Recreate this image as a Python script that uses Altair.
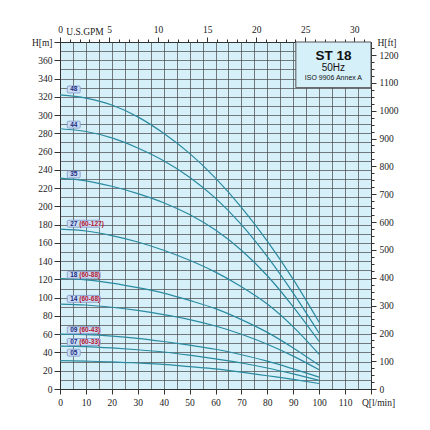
import altair as alt
import pandas as pd

# ---- data ----
flow = [0, 10, 20, 30, 40, 50, 60, 70, 80, 90, 100]   # Q [l/min]
stages = ["48", "44", "35", "27", "18", "14", "09", "07", "05"]
ranges = ["", "", "", "(60-127)", "(60-88)", "(60-68)", "(60-43)", "(60-33)", ""]
head_48 = [322, 318.5, 311, 298, 280, 258, 231, 199, 162, 120, 73]
head_44 = [285, 282, 275, 264, 250, 232, 209, 180, 145, 105, 61]
head_35 = [231, 228, 222, 214, 204, 191, 174, 152, 124, 90, 52]
head_27 = [175, 173, 168, 161, 152, 141, 128, 112, 93, 68, 38]
head_18 = [121, 119.5, 116, 111, 105, 97, 88, 76, 62, 45, 26]
head_14 = [93, 92, 89.5, 86, 81.5, 76, 69, 60, 49, 36, 21]
head_09 = [60, 59.5, 58, 55.5, 52, 48, 43.5, 37.5, 30.5, 22, 13]
head_07 = [47, 46.5, 45, 43, 40.5, 37, 33, 28.5, 23, 16.5, 9.5]
head_05 = [31, 30.5, 29.8, 28.5, 27, 24.5, 22, 18.5, 14.5, 10.5, 6]
label_h = [328, 289.5, 235, 181, 125, 98.7, 64.4, 51.5, 39.8]
title_lines = ["ST 18", "50Hz", "ISO 9906 Annex A"]

heads = [head_48, head_44, head_35, head_27, head_18, head_14, head_09, head_07, head_05]

Q_MAX = 120
H_MAX = 380
GPM_MAX = Q_MAX / 3.78541
FT_MAX = H_MAX * 3.28084

rows = []
for s, hs in zip(stages, heads):
    for q, h in zip(flow, hs):
        rows.append({"stage": s, "q": q, "h": h})
curve_df = pd.DataFrame(rows)

lab_rows = []
for s, r, h in zip(stages, ranges, label_h):
    lab_rows.append({"stage": s, "rng": r, "ly": h, "x0": 2.8,
                     "x1": 2.8 + (12.7 if r else 5.0),
                     "y0": h - 3.8, "y1": h + 3.8})
lab_df = pd.DataFrame(lab_rows)

BX0, BY0 = 91, 330
box_df = pd.DataFrame([{"x0": BX0, "x1": Q_MAX, "y0": BY0, "y1": H_MAX}])
cx = (BX0 + Q_MAX) / 2
t1_df = pd.DataFrame([{"t": title_lines[0], "x": cx, "y": 365}])
t2_df = pd.DataFrame([{"t": title_lines[1], "x": cx, "y": 352}])
t3_df = pd.DataFrame([{"t": title_lines[2], "x": cx, "y": 340.5}])
sec_df = pd.DataFrame({"gpm": [0, GPM_MAX], "ft": [0, FT_MAX]})

FONT = "Liberation Serif"
LCOL = "#222222"
xs = alt.Scale(domain=[0, Q_MAX], nice=False, zero=False)
ys = alt.Scale(domain=[0, H_MAX], nice=False, zero=False)

x_axis = alt.Axis(
    title=None, orient="bottom", values=list(range(0, Q_MAX + 1, 5)),
    labelExpr="datum.value == 120 ? 'Q[l/min]' : (datum.value % 10 == 0 ? datum.label : '')",
    tickSize={"condition": {"test": "datum.value % 10 == 0", "value": 5}, "value": 0},
    labelOffset={"condition": {"test": "datum.value == 120", "value": 7}, "value": 0},
    labelFlush=False, labelOverlap=False, labelPadding=3,
    labelFont=FONT, labelFontSize=9.5, labelColor=LCOL,
    grid=True, gridColor="#4a4a4a", gridWidth=0.8, gridOpacity=0.9,
    domainColor="#333", tickColor="#333",
)
y_axis = alt.Axis(
    title=None, orient="left", values=list(range(0, H_MAX + 1, 10)),
    labelExpr="datum.value == 380 ? 'H[m]' : (datum.value % 20 == 0 ? datum.label : '')",
    tickSize={"condition": {"test": "datum.value % 20 == 0", "value": 6}, "value": 0},
    labelOverlap=False, labelPadding=2,
    labelFont=FONT, labelFontSize=9.5, labelColor=LCOL,
    grid=True, gridColor="#4a4a4a", gridWidth=0.8, gridOpacity=0.9,
    domainColor="#333", tickColor="#333",
)


def X(f):
    return alt.X(f, scale=xs, axis=x_axis)


def Y(f):
    return alt.Y(f, scale=ys, axis=y_axis)


curves = alt.Chart(curve_df).mark_line(
    interpolate="monotone", color="#2a8aa0", strokeWidth=1.2
).encode(x=X("q:Q"), y=Y("h:Q"), detail="stage:N")

boxes = alt.Chart(lab_df).mark_rect(
    fill="#c9ddf5", stroke="#7f93c4", strokeWidth=0.8, cornerRadius=1
).encode(x=X("x0:Q"), x2="x1", y=Y("y0:Q"), y2="y1")
num_text = alt.Chart(lab_df).mark_text(
    align="left", baseline="middle", dx=3, font="Liberation Sans",
    fontSize=6.5, fontWeight="bold", color="#1b2a80"
).encode(x=X("x0:Q"), y=Y("ly:Q"), text="stage:N")
rng_text = alt.Chart(lab_df).mark_text(
    align="left", baseline="middle", dx=12, font="Liberation Sans",
    fontSize=6.5, fontWeight="bold", color="#b3142c"
).encode(x=X("x0:Q"), y=Y("ly:Q"), text="rng:N")

tbox = alt.Chart(box_df).mark_rect(
    fill="#d6f0fa", stroke="#555555", strokeWidth=1
).encode(x=X("x0:Q"), x2="x1", y=Y("y0:Q"), y2="y1")


def ttext(df, size, weight):
    return alt.Chart(df).mark_text(
        align="center", baseline="middle", font="Liberation Sans", color="#111111",
        fontSize=size, fontWeight=weight
    ).encode(x=X("x:Q"), y=Y("y:Q"), text="t:N")


main = alt.layer(curves, boxes, num_text, rng_text, tbox,
                 ttext(t1_df, 13.5, "bold"), ttext(t2_df, 10, "normal"),
                 ttext(t3_df, 7, "normal"))

top_axis = alt.Axis(
    title=None, orient="top",
    values=list(range(0, 32)) + [2.5],
    labelExpr="datum.value == 2.5 ? 'U.S.GPM' : (datum.value % 5 == 0 ? datum.label : '')",
    tickSize={"condition": {"test": "datum.value % 5 == 0", "value": 5}, "value": 3},
    tickOpacity={"condition": {"test": "datum.value == 2.5", "value": 0}, "value": 1},
    labelFlush=False, labelOverlap=False, labelPadding=3,
    labelFont=FONT, labelFontSize=9.5, labelColor=LCOL,
    grid=False, domainColor="#333", tickColor="#333",
)
right_axis = alt.Axis(
    title=None, orient="right", format="d",
    values=list(range(0, 1226, 25)) + [FT_MAX],
    labelExpr="datum.value > 1240 ? 'H[ft]' : (datum.value % 100 == 0 ? datum.label : '')",
    tickSize={"condition": {"test": "datum.value % 100 == 0", "value": 5}, "value": 3},
    tickOpacity={"condition": {"test": "datum.value > 1240", "value": 0}, "value": 1},
    labelOverlap=False, labelPadding=3,
    labelFont=FONT, labelFontSize=9.5, labelColor=LCOL,
    grid=False, domainColor="#333", tickColor="#333",
)
sec = alt.Chart(sec_df).mark_point(opacity=0).encode(
    x=alt.X("gpm:Q", scale=alt.Scale(domain=[0, GPM_MAX], nice=False, zero=False), axis=top_axis),
    y=alt.Y("ft:Q", scale=alt.Scale(domain=[0, FT_MAX], nice=False, zero=False), axis=right_axis),
)

chart = alt.layer(main, sec).resolve_scale(
    x="independent", y="independent"
).properties(
    width=311, height=347,
    autosize=alt.AutoSizeParams(type="none"),
    padding={"left": 52, "top": 34, "right": 50, "bottom": 30},
    background="white",
).configure_view(
    fill="#d6f0fa", stroke="#333333", strokeWidth=1
)

chart.save("out.html", embed_options={"renderer": "svg", "actions": False})
